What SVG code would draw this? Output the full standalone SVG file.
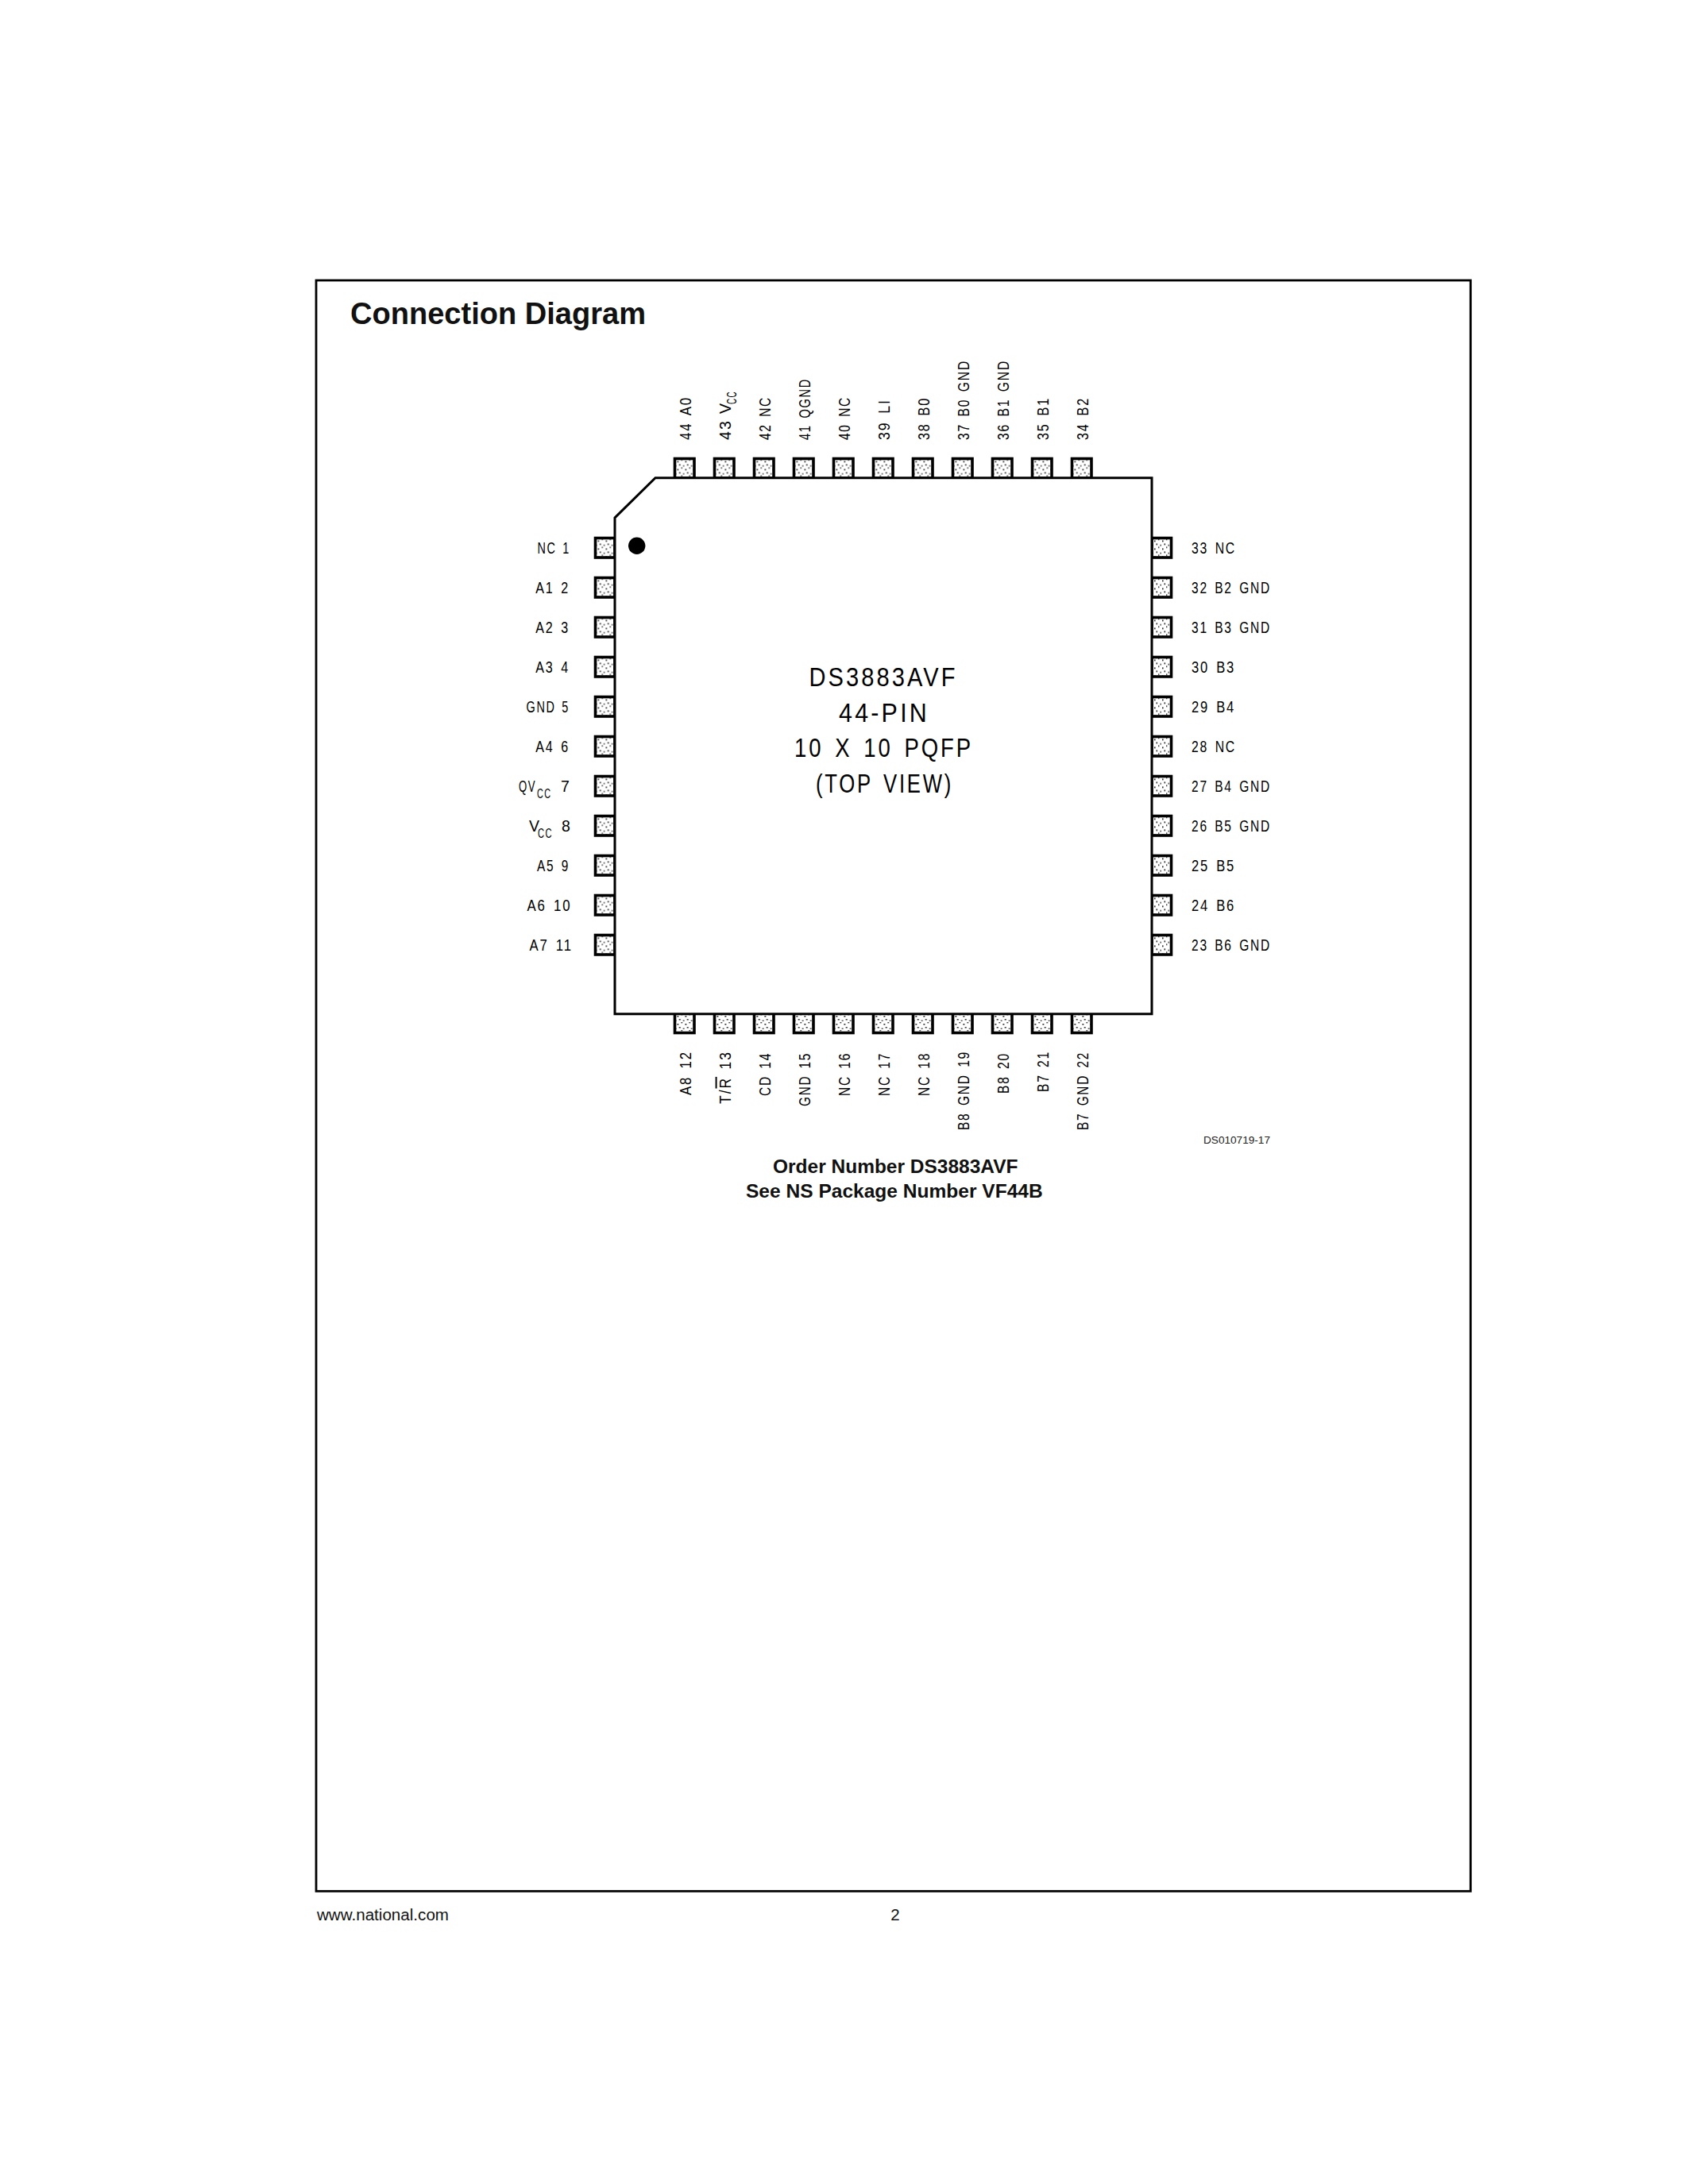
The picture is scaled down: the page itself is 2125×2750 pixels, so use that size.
<svg xmlns="http://www.w3.org/2000/svg" width="2125" height="2750" viewBox="0 0 2125 2750">
<style>
text{font-family:"Liberation Sans",Arial,sans-serif;fill:#000}
.pad{fill:url(#dots);stroke:#000;stroke-width:3.6}
.body{fill:#fff;stroke:#000;stroke-width:3;stroke-linejoin:miter}
.pin{font-size:19.5px;letter-spacing:2.2px;word-spacing:3px}
.le{text-anchor:end}
.bold{font-weight:700;fill:#111}
.big{font-size:33px;text-anchor:middle;letter-spacing:3.5px;word-spacing:5px}
.sub{font-size:17px}
.ord{font-size:23.5px;font-weight:700;fill:#111}
.foot{font-size:20.5px;fill:#111}
</style>
<defs>
<pattern id="dots" width="10" height="10" patternUnits="userSpaceOnUse" patternTransform="translate(2 1)">
<rect width="10" height="10" fill="#fff"/>
<rect x="1" y="2" width="1.6" height="1.6" fill="#000"/>
<rect x="6" y="0" width="1.4" height="1.4" fill="#000"/>
<rect x="3.5" y="6" width="1.6" height="1.6" fill="#000"/>
<rect x="8.5" y="7.5" width="1.4" height="1.4" fill="#000"/>
</pattern>
<rect id="hp" width="24.5" height="24.5" class="pad"/>
<rect id="vp" width="24.5" height="24.5" class="pad"/>
</defs>
<rect width="2125" height="2750" fill="#fff"/>
<rect id="frame" x="398" y="353" width="1453.3" height="2028.3" fill="none" stroke="#000" stroke-width="2.8"/>
<text id="title" class="bold" x="441" y="408" font-size="38" textLength="372" lengthAdjust="spacingAndGlyphs">Connection Diagram</text>

<g id="pads">
<use href="#vp" x="849.5" y="577.5"/><use href="#vp" x="899.5" y="577.5"/><use href="#vp" x="949.5" y="577.5"/><use href="#vp" x="999.5" y="577.5"/><use href="#vp" x="1049.5" y="577.5"/><use href="#vp" x="1099.5" y="577.5"/><use href="#vp" x="1149.5" y="577.5"/><use href="#vp" x="1199.5" y="577.5"/><use href="#vp" x="1249.5" y="577.5"/><use href="#vp" x="1299.5" y="577.5"/><use href="#vp" x="1349.5" y="577.5"/>
<use href="#vp" x="849.5" y="1276"/><use href="#vp" x="899.5" y="1276"/><use href="#vp" x="949.5" y="1276"/><use href="#vp" x="999.5" y="1276"/><use href="#vp" x="1049.5" y="1276"/><use href="#vp" x="1099.5" y="1276"/><use href="#vp" x="1149.5" y="1276"/><use href="#vp" x="1199.5" y="1276"/><use href="#vp" x="1249.5" y="1276"/><use href="#vp" x="1299.5" y="1276"/><use href="#vp" x="1349.5" y="1276"/>
<use href="#hp" x="749.5" y="677.5"/><use href="#hp" x="749.5" y="727.5"/><use href="#hp" x="749.5" y="777.5"/><use href="#hp" x="749.5" y="827.5"/><use href="#hp" x="749.5" y="877.5"/><use href="#hp" x="749.5" y="927.5"/><use href="#hp" x="749.5" y="977.5"/><use href="#hp" x="749.5" y="1027.5"/><use href="#hp" x="749.5" y="1077.5"/><use href="#hp" x="749.5" y="1127.5"/><use href="#hp" x="749.5" y="1177.5"/>
<use href="#hp" x="1450" y="677.5"/><use href="#hp" x="1450" y="727.5"/><use href="#hp" x="1450" y="777.5"/><use href="#hp" x="1450" y="827.5"/><use href="#hp" x="1450" y="877.5"/><use href="#hp" x="1450" y="927.5"/><use href="#hp" x="1450" y="977.5"/><use href="#hp" x="1450" y="1027.5"/><use href="#hp" x="1450" y="1077.5"/><use href="#hp" x="1450" y="1127.5"/><use href="#hp" x="1450" y="1177.5"/>
</g>

<g id="package">
<path class="body" d="M825 601.7H1450V1276.7H774V652Z"/>
<circle cx="801.7" cy="687.3" r="10.7" fill="#000"/>
<text class="big" x="1112" y="864.3" textLength="187" lengthAdjust="spacingAndGlyphs">DS3883AVF</text>
<text class="big" x="1113" y="908.6" textLength="114" lengthAdjust="spacingAndGlyphs">44-PIN</text>
<text class="big" x="1112.5" y="953" textLength="225" lengthAdjust="spacingAndGlyphs">10 X 10 PQFP</text>
<text class="big" x="1113.5" y="997.5" textLength="173" lengthAdjust="spacingAndGlyphs">(TOP VIEW)</text>
</g>

<g id="pins-left">
<g id="pin1"><text class="pin le" x="718" y="696.7" textLength="41.5" lengthAdjust="spacingAndGlyphs">NC 1</text></g>
<g id="pin2"><text class="pin le" x="717" y="746.7" textLength="42.8" lengthAdjust="spacingAndGlyphs">A1 2</text></g>
<g id="pin3"><text class="pin le" x="717" y="796.7" textLength="42.8" lengthAdjust="spacingAndGlyphs">A2 3</text></g>
<g id="pin4"><text class="pin le" x="717" y="846.7" textLength="42.8" lengthAdjust="spacingAndGlyphs">A3 4</text></g>
<g id="pin5"><text class="pin le" x="717" y="896.7" textLength="54.4" lengthAdjust="spacingAndGlyphs">GND 5</text></g>
<g id="pin6"><text class="pin le" x="717" y="946.7" textLength="42.8" lengthAdjust="spacingAndGlyphs">A4 6</text></g>
<g id="pin7"><text class="pin" y="996.7"><tspan x="653" textLength="22" lengthAdjust="spacingAndGlyphs">QV</tspan><tspan class="sub" x="676" dy="8" textLength="18.5" lengthAdjust="spacingAndGlyphs">CC</tspan><tspan x="706" dy="-8">7</tspan></text></g>
<g id="pin8"><text class="pin" y="1046.7"><tspan x="666">V</tspan><tspan class="sub" x="677" dy="8" textLength="19" lengthAdjust="spacingAndGlyphs">CC</tspan><tspan x="707" dy="-8">8</tspan></text></g>
<g id="pin9"><text class="pin le" x="717" y="1096.7" textLength="41" lengthAdjust="spacingAndGlyphs">A5 9</text></g>
<g id="pin10"><text class="pin le" x="719.5" y="1146.7" textLength="56" lengthAdjust="spacingAndGlyphs">A6 10</text></g>
<g id="pin11"><text class="pin le" x="721" y="1196.7" textLength="54.5" lengthAdjust="spacingAndGlyphs">A7 11</text></g>
</g>

<g id="pins-right">
<g id="pin33"><text class="pin" x="1500" y="696.7" textLength="56" lengthAdjust="spacingAndGlyphs">33 NC</text></g>
<g id="pin32"><text class="pin" x="1500" y="746.7" textLength="100" lengthAdjust="spacingAndGlyphs">32 B2 GND</text></g>
<g id="pin31"><text class="pin" x="1500" y="796.7" textLength="100" lengthAdjust="spacingAndGlyphs">31 B3 GND</text></g>
<g id="pin30"><text class="pin" x="1500" y="846.7" textLength="55.2" lengthAdjust="spacingAndGlyphs">30 B3</text></g>
<g id="pin29"><text class="pin" x="1500" y="896.7" textLength="55.2" lengthAdjust="spacingAndGlyphs">29 B4</text></g>
<g id="pin28"><text class="pin" x="1500" y="946.7" textLength="56" lengthAdjust="spacingAndGlyphs">28 NC</text></g>
<g id="pin27"><text class="pin" x="1500" y="996.7" textLength="100" lengthAdjust="spacingAndGlyphs">27 B4 GND</text></g>
<g id="pin26"><text class="pin" x="1500" y="1046.7" textLength="100" lengthAdjust="spacingAndGlyphs">26 B5 GND</text></g>
<g id="pin25"><text class="pin" x="1500" y="1096.7" textLength="55.2" lengthAdjust="spacingAndGlyphs">25 B5</text></g>
<g id="pin24"><text class="pin" x="1500" y="1146.7" textLength="55.2" lengthAdjust="spacingAndGlyphs">24 B6</text></g>
<g id="pin23"><text class="pin" x="1500" y="1196.7" textLength="100" lengthAdjust="spacingAndGlyphs">23 B6 GND</text></g>
</g>

<g id="pins-top">
<g id="pin44"><text class="pin" transform="translate(869.6 554) rotate(-90)" textLength="55" lengthAdjust="spacingAndGlyphs">44 A0</text></g>
<g id="pin43"><text class="pin" transform="translate(919.6 554) rotate(-90)"><tspan x="0">43</tspan><tspan x="33">V</tspan><tspan class="sub" x="45" dy="7" textLength="17" lengthAdjust="spacingAndGlyphs">CC</tspan></text></g>
<g id="pin42"><text class="pin" transform="translate(969.6 554) rotate(-90)" textLength="55" lengthAdjust="spacingAndGlyphs">42 NC</text></g>
<g id="pin41"><text class="pin" transform="translate(1019.6 554) rotate(-90)" textLength="78" lengthAdjust="spacingAndGlyphs">41 QGND</text></g>
<g id="pin40"><text class="pin" transform="translate(1069.6 554) rotate(-90)" textLength="55" lengthAdjust="spacingAndGlyphs">40 NC</text></g>
<g id="pin39"><text class="pin" transform="translate(1119.6 554) rotate(-90)" textLength="52" lengthAdjust="spacingAndGlyphs">39 LI</text></g>
<g id="pin38"><text class="pin" transform="translate(1169.6 554) rotate(-90)" textLength="54" lengthAdjust="spacingAndGlyphs">38 B0</text></g>
<g id="pin37"><text class="pin" transform="translate(1219.6 554) rotate(-90)" textLength="101" lengthAdjust="spacingAndGlyphs">37 B0 GND</text></g>
<g id="pin36"><text class="pin" transform="translate(1269.6 554) rotate(-90)" textLength="101" lengthAdjust="spacingAndGlyphs">36 B1 GND</text></g>
<g id="pin35"><text class="pin" transform="translate(1319.6 554) rotate(-90)" textLength="54" lengthAdjust="spacingAndGlyphs">35 B1</text></g>
<g id="pin34"><text class="pin" transform="translate(1369.6 554) rotate(-90)" textLength="54" lengthAdjust="spacingAndGlyphs">34 B2</text></g>
</g>

<g id="pins-bottom">
<g id="pin12"><text class="pin le" transform="translate(869.6 1323) rotate(-90)" textLength="56" lengthAdjust="spacingAndGlyphs">A8 12</text></g>
<g id="pin13"><text class="pin le" transform="translate(919.6 1323) rotate(-90)" textLength="67" lengthAdjust="spacingAndGlyphs">T/<tspan text-decoration="overline">R</tspan> 13</text></g>
<g id="pin14"><text class="pin le" transform="translate(969.6 1325) rotate(-90)" textLength="55" lengthAdjust="spacingAndGlyphs">CD 14</text></g>
<g id="pin15"><text class="pin le" transform="translate(1019.6 1325) rotate(-90)" textLength="68" lengthAdjust="spacingAndGlyphs">GND 15</text></g>
<g id="pin16"><text class="pin le" transform="translate(1069.6 1325) rotate(-90)" textLength="55" lengthAdjust="spacingAndGlyphs">NC 16</text></g>
<g id="pin17"><text class="pin le" transform="translate(1119.6 1325) rotate(-90)" textLength="55" lengthAdjust="spacingAndGlyphs">NC 17</text></g>
<g id="pin18"><text class="pin le" transform="translate(1169.6 1325) rotate(-90)" textLength="55" lengthAdjust="spacingAndGlyphs">NC 18</text></g>
<g id="pin19"><text class="pin le" transform="translate(1219.6 1323) rotate(-90)" textLength="100" lengthAdjust="spacingAndGlyphs">B8 GND 19</text></g>
<g id="pin20"><text class="pin le" transform="translate(1269.6 1325) rotate(-90)" textLength="52" lengthAdjust="spacingAndGlyphs">B8 20</text></g>
<g id="pin21"><text class="pin le" transform="translate(1319.6 1323) rotate(-90)" textLength="52" lengthAdjust="spacingAndGlyphs">B7 21</text></g>
<g id="pin22"><text class="pin le" transform="translate(1369.6 1324) rotate(-90)" textLength="99" lengthAdjust="spacingAndGlyphs">B7 GND 22</text></g>
</g>

<text id="ref" x="1515" y="1440" font-size="13.6" textLength="84" lengthAdjust="spacingAndGlyphs" style="fill:#222">DS010719-17</text>
<text class="ord" x="973" y="1477" textLength="308.5" lengthAdjust="spacingAndGlyphs">Order Number DS3883AVF</text>
<text class="ord" x="939" y="1507.5" textLength="373.7" lengthAdjust="spacingAndGlyphs">See NS Package Number VF44B</text>
<text class="foot" x="399" y="2418" textLength="166" lengthAdjust="spacingAndGlyphs">www.national.com</text>
<text class="foot" x="1127" y="2418" text-anchor="middle">2</text>
</svg>
